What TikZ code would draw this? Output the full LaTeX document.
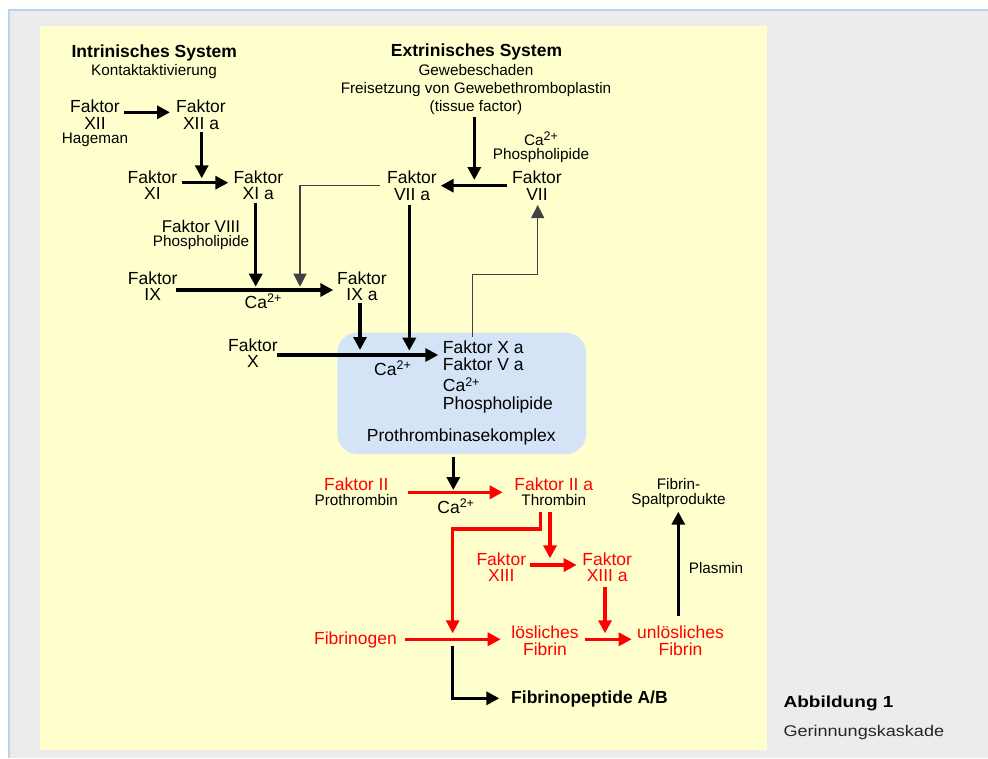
\documentclass[tikz,border=0pt]{standalone}
\usepackage{fontspec}
\setmainfont{Liberation Sans}
\usetikzlibrary{arrows.meta}
\definecolor{ylw}{RGB}{255,255,206}
\definecolor{gry}{RGB}{236,236,236}
\definecolor{brd}{RGB}{184,212,240}
\definecolor{bxb}{RGB}{212,228,246}
\definecolor{rd}{RGB}{255,0,0}
\newcommand\fB{\fontsize{17.5}{17}\selectfont}
\newcommand\fS{\fontsize{15.3}{15}\selectfont}
\newcommand\fBB{\fontsize{17.5}{17}\selectfont\bfseries}
\newcommand\lns[2]{\vtop{\baselineskip=#1\relax\lineskiplimit=-\maxdimen\lineskip=0pt\halign{\hfil##\hfil\cr#2\crcr}}}
\newcommand\lnsl[2]{\vtop{\baselineskip=#1\relax\lineskiplimit=-\maxdimen\lineskip=0pt\halign{##\hfil\cr#2\crcr}}}
\newcommand\caB{Ca\raisebox{5.5pt}{\fontsize{12.5}{12}\selectfont 2+}}
\newcommand\caS{Ca\raisebox{5pt}{\fontsize{12.5}{12}\selectfont 2+}}
\begin{document}
\begin{tikzpicture}[x=1pt,y=-1pt,
  lab/.style={inner sep=0pt, anchor=base, font=\fB},
  labS/.style={lab, font=\fS},
  ar/.style={-{Triangle[length=13pt,width=13pt]}, line width=3.4pt},
  rar/.style={ar, draw=rd},
  thinar/.style={-{Triangle[length=13pt,width=13pt]}, line width=1.2pt, draw=black!75}]
% frame
\useasboundingbox (0,0) rectangle (988,758);
\fill[white] (0,0) rectangle (988,758);
\fill[gry] (8,9) rectangle (988,758);
\draw[brd, line width=2pt] (9,758) -- (9,10) -- (988,10);
\fill[ylw] (40,26) rectangle (767,750);
% prothrombinase box
\node[fill=bxb, rounded corners=20pt, inner sep=0pt, minimum width=248.7pt, minimum height=121.3pt] (box) at (461.65,393.35) {};
% connector end points
\coordinate (a1s) at (124,112.3);   \coordinate (a1e) at (170,112.3);
\coordinate (a2s) at (201.7,131.7); \coordinate (a2e) at (201.7,178.3);
\coordinate (a3s) at (181.7,182.7); \coordinate (a3e) at (228.3,182.7);
\coordinate (a4s) at (255.7,203.3); \coordinate (a4e) at (255.7,286.7);
\coordinate (a5s) at (175.7,290);   \coordinate (a5e) at (333.3,290);
\coordinate (a6s) at (380,185.7);   \coordinate (a6e) at (300,286.7);
\coordinate (a7s) at (506.7,185.7); \coordinate (a7e) at (440.7,185.7);
\coordinate (a8s) at (474.3,117.3); \coordinate (a8e) at (474.3,180);
\coordinate (a9s) at (409.3,205);   \coordinate (a9e) at (409.3,350.7);
\coordinate (a10s) at (360,303.3);  \coordinate (a10e) at (360,350);
\coordinate (a11s) at (277.3,355);  \coordinate (a11e) at (438.3,355);
\coordinate (a12s) at (472.7,336.7); \coordinate (a12k) at (472.7,274.3); \coordinate (a12e) at (537.7,205);
\coordinate (a13s) at (453.3,456.7); \coordinate (a13e) at (453.3,490);
\coordinate (a14s) at (408.3,492.3); \coordinate (a14e) at (502.7,492.3);
\coordinate (a15s) at (540.7,512.3); \coordinate (a15k) at (540.7,529); \coordinate (a15e) at (452.7,633.3);
\coordinate (a16s) at (550,512.3);  \coordinate (a16e) at (550,558.3);
\coordinate (a17s) at (530,565);    \coordinate (a17e) at (576.7,565);
\coordinate (a18s) at (605,587.3);  \coordinate (a18e) at (605,633.3);
\coordinate (a19s) at (405,639.3);  \coordinate (a19e) at (500.7,639.3);
\coordinate (a20s) at (585,639.3);  \coordinate (a20e) at (631.7,639.3);
\coordinate (a21s) at (678.3,616);  \coordinate (a21e) at (678.3,511.7);
\coordinate (a22s) at (452.7,646);  \coordinate (a22e) at (499.3,698.3);
% connectors
\draw[ar] (a1s) -- (a1e);
\draw[ar] (a2s) -- (a2e);
\draw[ar] (a3s) -- (a3e);
\draw[ar] (a4s) -- (a4e);
\draw[ar] (a5s) -- (a5e);
\draw[thinar] (a6s) -| (a6e);
\draw[ar] (a7s) -- (a7e);
\draw[ar] (a8s) -- (a8e);
\draw[ar] (a9s) -- (a9e);
\draw[ar] (a10s) -- (a10e);
\draw[ar] (a11s) -- (a11e);
\draw[thinar] (a12s) -- (a12k) -| (a12e);
\draw[ar] (a13s) -- (a13e);
\draw[rar] (a14s) -- (a14e);
\draw[rar] (a15s) -- (a15k) -| (a15e);
\draw[rar] (a16s) -- (a16e);
\draw[rar] (a17s) -- (a17e);
\draw[rar] (a18s) -- (a18e);
\draw[rar] (a19s) -- (a19e);
\draw[rar] (a20s) -- (a20e);
\draw[ar] (a21s) -- (a21e);
\draw[ar] (a22s) |- (a22e);
% labels
\node[lab, font=\fBB] (intr) at (154.3,57.3) {Intrinisches System};
\node[labS] (kont) at (154,75) {Kontaktaktivierung};
\node[lab, font=\fBB] (extr) at (476.5,56.7) {Extrinisches System};
\node[labS] (gew) at (476,75.7) {\lns{18pt}{Gewebeschaden\cr Freisetzung von Gewebethromboplastin\cr (tissue factor)}};
\node[lab] (f12) at (95,112.7) {\lns{16.3pt}{Faktor\cr XII\cr\noalign{\vskip-1.8pt}\fS Hageman}};
\node[lab] (f12a) at (201,112.7) {\lns{16.5pt}{Faktor\cr XII a}};
\node[lab] (f11) at (152.5,183.3) {\lns{16.5pt}{Faktor\cr XI}};
\node[lab] (f11a) at (258.3,183.3) {\lns{16.5pt}{Faktor\cr XI a}};
\node[lab] (f8) at (201,232) {\lns{14.7pt}{\fontsize{17}{17}\selectfont Faktor VIII\cr\fS Phospholipide}};
\node[lab] (f9) at (152.7,284.3) {\lns{16pt}{Faktor\cr IX}};
\node[lab] (ca1) at (263,308.3) {\caB};
\node[lab] (f9a) at (362,284.3) {\lns{16pt}{Faktor\cr IX a}};
\node[lab] (f7a) at (412,183.3) {\lns{17pt}{Faktor\cr VII a}};
\node[lab] (f7) at (537,183.3) {\lns{17pt}{Faktor\cr VII}};
\node[labS] (cp7) at (541,145) {\lns{14.3pt}{\caS\cr Phospholipide}};
\node[lab] (f10) at (253,351.7) {\lns{16pt}{Faktor\cr X}};
\node[lab] (ca2) at (392.5,375) {\caB};
\node[lab, anchor=base west] (cplx) at (442.7,353.3) {\lnsl{17.4pt}{Faktor X a\cr Faktor V a\cr\noalign{\vskip3.6pt}\caB\cr Phospholipide}};
\node[lab] (prk) at (461.3,441.7) {Prothrombinasekomplex};
\node[lab] (f2) at (356.3,490.7) {\lns{14.3pt}{\textcolor{rd}{Faktor II}\cr\fS Prothrombin}};
\node[lab] (ca3) at (455.7,513.3) {\caB};
\node[lab] (f2a) at (553.8,490.7) {\lns{14.3pt}{\textcolor{rd}{Faktor II a}\cr\fS Thrombin}};
\node[lab, text=rd] (f13) at (501.3,565) {\lns{16.7pt}{Faktor\cr XIII}};
\node[lab, text=rd] (f13a) at (607.2,565) {\lns{16.7pt}{Faktor\cr XIII a}};
\node[lab, text=rd] (fbg) at (355.5,644) {Fibrinogen};
\node[lab, text=rd] (lf) at (545,638.3) {\lns{17.4pt}{lösliches\cr Fibrin}};
\node[lab, text=rd] (ulf) at (680.5,638.3) {\lns{17.4pt}{unlösliches\cr Fibrin}};
\node[labS] (pls) at (716,573.3) {Plasmin};
\node[labS] (fsp) at (678.5,489.3) {\lns{15pt}{Fibrin-\cr Spaltprodukte}};
\node[lab, font=\fBB, anchor=base west] (fpep) at (511,703.3) {Fibrinopeptide A/B};
\node[lab, font=\fontsize{16}{16}\selectfont\bfseries, anchor=base west] (abb) at (783.3,707.3) {\scalebox{1.19}[1]{Abbildung 1}};
\node[lab, font=\fontsize{15.5}{15.5}\selectfont, anchor=base west, text=black!85] (ger) at (783.3,736.7) {\scalebox{1.165}[1]{Gerinnungskaskade}};
\end{tikzpicture}
\end{document}
